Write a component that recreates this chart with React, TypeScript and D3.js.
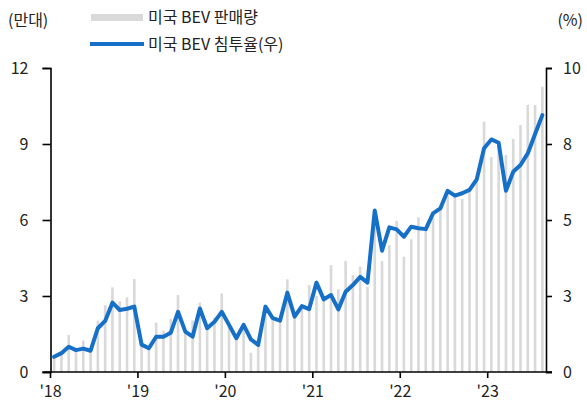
import React, { useEffect, useRef } from 'react';
import * as d3 from 'd3';

// 2018.01 ~ 2023.08 monthly
const years = ['18', '19', '20', '21', '22', '23'];
const months = d3.range(68).map(i => `${2018 + Math.floor(i / 12)}-${(i % 12) + 1}`);

// 미국 BEV 판매량 (만대)
const sales = [
    0.6, 0.75, 1.46, 0.87, 1.24, 0.87, 2.03, 2.64, 3.34, 2.8, 2.95, 3.67,
    1.05, 0.9, 1.95, 1.63, 2.09, 3.04, 1.66, 2.03, 2.74, 1.65, 2.16, 3.1,
    1.9, 1.45, 1.85, 0.76, 1.05, 2.58, 2.1, 2.03, 3.66, 2.3, 2.6, 3.43,
    3.0, 2.9, 4.22, 3.26, 4.38, 3.83, 4.16, 3.37, 5.8, 4.38, 5.01, 5.96,
    4.55, 5.24, 6.11, 5.67, 6.07, 6.53, 7.16, 6.92, 6.83, 7.21, 7.61, 9.88,
    8.48, 8.9, 8.57, 9.2, 9.75, 10.54, 10.54, 11.26
];

// 미국 BEV 침투율 (%)
const share = [
    0.5, 0.62, 0.83, 0.72, 0.77, 0.7, 1.44, 1.68, 2.28, 2.04, 2.08, 2.15,
    0.9, 0.78, 1.16, 1.16, 1.29, 1.98, 1.33, 1.16, 2.09, 1.44, 1.65, 1.98,
    1.55, 1.11, 1.55, 1.07, 0.89, 2.15, 1.77, 1.69, 2.61, 1.82, 2.17, 2.07,
    2.94, 2.39, 2.53, 2.06, 2.64, 2.86, 3.13, 2.94, 5.31, 3.99, 4.76, 4.69,
    4.45, 4.78, 4.73, 4.7, 5.22, 5.38, 5.96, 5.8, 5.88, 5.99, 6.34, 7.36,
    7.65, 7.54, 5.96, 6.59, 6.81, 7.19, 7.83, 8.45
];

const leftTicks = [0, 3, 6, 9, 12];
const rightTicks = [0, 2.5, 5, 7.5, 10];

const FONT = '"Noto Sans CJK KR", "Noto Sans", sans-serif';
const BLUE = '#1670c8';
const GRAY = '#d9d9d9';

const App = () => {
    const svgRef = useRef<SVGSVGElement>(null);

    useEffect(() => {
        const width = 587;
        const height = 406;
        const left = 50.5, right = 546, top = 68, bottom = 372;

        const svg = d3.select(svgRef.current)
            .attr('width', width)
            .attr('height', height)
            .style('font-family', FONT);
        svg.selectAll('*').remove();

        const x = d3.scaleBand().domain(months).range([left, right]).padding(0);
        const yL = d3.scaleLinear().domain([0, 12]).range([bottom, top]);
        const yR = d3.scaleLinear().domain([0, 10]).range([bottom, top]);
        const bw = x.bandwidth() * 0.36;

        // bars
        svg.append('g')
            .selectAll('rect')
            .data(sales)
            .enter()
            .append('rect')
            .attr('x', (d, i) => x(months[i])! + x.bandwidth() / 2 - bw / 2)
            .attr('y', d => yL(d))
            .attr('width', bw)
            .attr('height', d => bottom - yL(d))
            .attr('fill', GRAY);

        // line
        const line = d3.line<number>()
            .x((d, i) => x(months[i])! + x.bandwidth() / 2)
            .y(d => yR(d));

        svg.append('path')
            .datum(share)
            .attr('d', line)
            .attr('fill', 'none')
            .attr('stroke', BLUE)
            .attr('stroke-width', 4)
            .attr('stroke-linejoin', 'round')
            .attr('stroke-linecap', 'round');

        // axes
        const axisL = svg.append('g').attr('transform', `translate(${left},0)`)
            .call(d3.axisLeft(yL).tickValues(leftTicks).tickSize(8).tickPadding(14));
        const axisR = svg.append('g').attr('transform', `translate(${right},0)`)
            .call(d3.axisRight(yR).tickValues(rightTicks).tickSize(6).tickPadding(11)
                .tickFormat(d => String(Math.round(+d))));
        const yearTicks = years.map((y, i) => months[i * 12]);
        const axisB = svg.append('g').attr('transform', `translate(0,${bottom})`)
            .call(d3.axisBottom(x).tickValues(yearTicks).tickSize(6).tickPadding(8)
                .tickFormat((d, i) => `'${years[i]}`));
        axisB.selectAll('.tick').attr('transform', d => `translate(${x(d as string)},0)`);

        [axisL, axisR, axisB].forEach(a => {
            a.select('.domain').attr('stroke', '#000').attr('stroke-width', 1.6);
            a.selectAll('.tick line').attr('stroke', '#000').attr('stroke-width', 1.6);
            a.selectAll('.tick text')
                .attr('fill', '#222')
                .style('font-size', '16px')
                .style('font-family', FONT);
        });
        axisB.select('.domain').attr('d', `M${left - 8},0H${right + 6}`);

        // unit labels
        svg.append('text').attr('x', 8).attr('y', 20).attr('dy', '0.35em')
            .text('(만대)').style('font-size', '16px').attr('fill', '#222');
        svg.append('text').attr('x', 583).attr('y', 20).attr('dy', '0.35em')
            .attr('text-anchor', 'end')
            .text('(%)').style('font-size', '16px').attr('fill', '#222');

        // legend
        const lg = svg.append('g');
        lg.append('rect').attr('x', 91).attr('y', 14).attr('width', 52).attr('height', 7).attr('fill', GRAY);
        lg.append('text').attr('x', 148).attr('y', 17).attr('dy', '0.35em')
            .text('미국 BEV 판매량').style('font-size', '16px').attr('fill', '#222');
        lg.append('line').attr('x1', 90).attr('x2', 144).attr('y1', 44).attr('y2', 44)
            .attr('stroke', BLUE).attr('stroke-width', 4);
        lg.append('text').attr('x', 148).attr('y', 44).attr('dy', '0.35em')
            .text('미국 BEV 침투율(우)').style('font-size', '16px').attr('fill', '#222');
    }, []);

    return <svg ref={svgRef} style={{ position: 'absolute', left: 0, top: 0 }}></svg>;
};

export default App;
